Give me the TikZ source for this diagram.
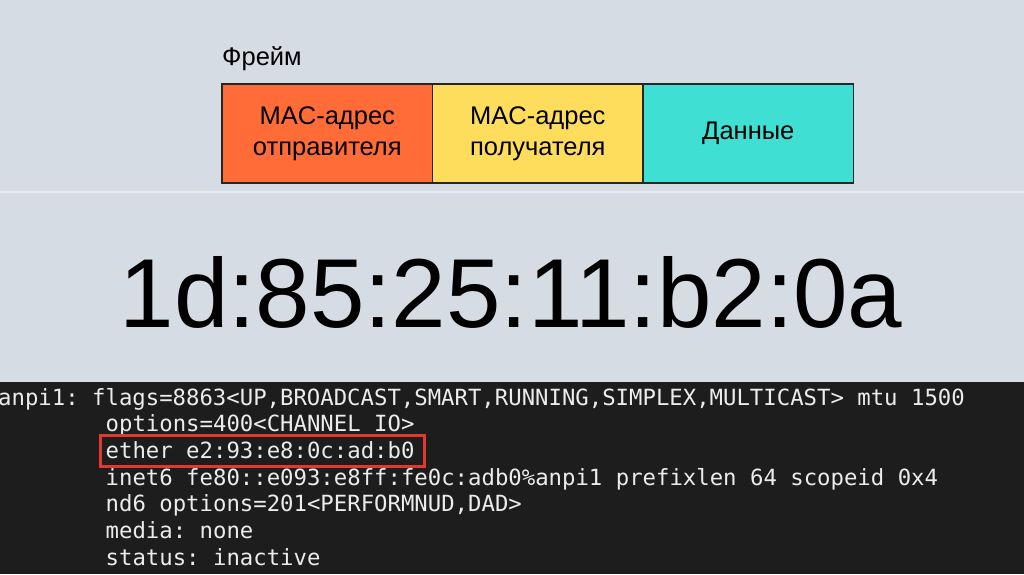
\documentclass[tikz,border=0pt]{standalone}
\usepackage{fontspec}
\setmainfont{Liberation Sans}
\newfontfamily\termfont{DejaVu Sans Mono}
\definecolor{slide}{HTML}{D5DCE4}
\definecolor{sepline}{HTML}{E8ECF1}
\definecolor{srcorange}{HTML}{FF6C37}
\definecolor{dstyellow}{HTML}{FFDD5C}
\definecolor{datateal}{HTML}{40DFD4}
\definecolor{termbg}{HTML}{1D1D1D}
\definecolor{termtext}{HTML}{ECECEC}
\definecolor{hired}{HTML}{E2392F}

\begin{document}
\begin{tikzpicture}[x=1pt,y=-1pt,
    field/.style={draw=black!85,line width=1.2pt,minimum width=210.5pt,minimum height=99pt,
                  inner sep=0pt,outer sep=0pt,align=center,font=\fontsize{25.5}{31}\selectfont},
    term/.style={anchor=base west,inner sep=0pt,text=termtext,
                 font=\termfont\frenchspacing\fontsize{22.3}{26}\selectfont}]
    \useasboundingbox (0,0) rectangle (1024,574);
    %SLIDE
    \fill[slide] (0,0) rectangle (1024,382);
    \draw[sepline,line width=1.5pt] (0,192) -- (1024,192);
    \node[anchor=base west,inner sep=0pt,font=\fontsize{25.5}{28}\selectfont] (title) at (222,65.7) {Фрейм};
    \node[field,fill=srcorange] (src) at (327.3,133.5) {MAC-адрес\\отправителя};
    \node[field,fill=dstyellow,anchor=west] (dst) at (src.east) {MAC-адрес\\получателя};
    \node[field,fill=datateal,anchor=west] (data) at (dst.east) {Данные};
    \node[anchor=base,inner sep=0pt,font=\fontsize{98}{100}\selectfont] (mac) at (511,327.7) {1d:85:25:11:b2:0a};

    %TERMINAL
    \fill[termbg] (0,382) rectangle (1024,574);
    \node[term] (l1) at (-2,405) {anpi1: flags=8863<UP,BROADCAST,SMART,RUNNING,SIMPLEX,MULTICAST> mtu 1500};
    \foreach \i/\txt in {2/{options=400<CHANNEL IO>},
                         3/{ether e2:93:e8:0c:ad:b0},
                         4/{inet6 fe80::e093:e8ff:fe0c:adb0\%anpi1 prefixlen 64 scopeid 0x4},
                         5/{nd6 options=201<PERFORMNUD,DAD>},
                         6/{media: none},
                         7/{status: inactive}}
      \node[term] (l\i) at (105.5,{405+26.7*(\i-1)}) {\txt};
    \draw[hired,line width=3pt] (100,435) rectangle (424,466);
\end{tikzpicture}
\end{document}
